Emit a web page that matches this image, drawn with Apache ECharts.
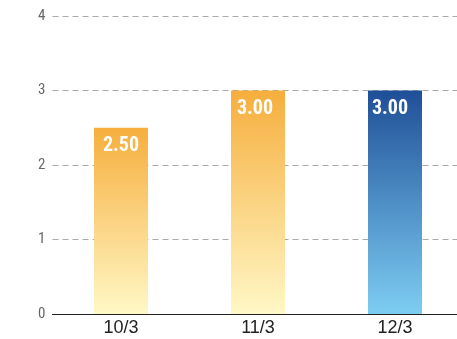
<!DOCTYPE html>
<html><head><meta charset="utf-8">
<script src="https://cdn.jsdelivr.net/npm/echarts@6/dist/echarts.min.js"></script>
<style>html,body{margin:0;padding:0;background:#fff}#c{width:457px;height:339px}</style>
</head><body><div id="c"></div>
<script>
const categories = ['10/3', '11/3', '12/3'];
const values = [2.5, 3.0, 3.0];
const yTicks = [0, 1, 2, 3, 4];

const orange = {type:'linear',x:0,y:0,x2:0,y2:1,colorStops:[{offset:0,color:'#F6AE3D'},{offset:1,color:'#FFF8C6'}]};
const blue = {type:'linear',x:0,y:0,x2:0,y2:1,colorStops:[{offset:0,color:'#1F4F97'},{offset:1,color:'#7DCDF3'}]};
const colors = [orange, orange, blue];
const labelShift = [[0,0],[-3,0],[-5,0]];

const chart = echarts.init(document.getElementById('c'));
chart.setOption({
  animation:false,
  grid:{left:52.5, right:-6.5, top:16, bottom:25, outerBoundsMode:'none', containLabel:false},
  xAxis:{type:'category', data:categories,
    axisLine:{lineStyle:{color:'#222', width:1.2}},
    axisTick:{show:false},
    axisLabel:{color:'#222', fontSize:18, fontFamily:'Arial, Liberation Sans', margin:5}},
  yAxis:{type:'value', min:yTicks[0], max:yTicks[yTicks.length-1], interval:1,
    axisLine:{show:false}, axisTick:{show:false},
    axisLabel:{color:'#666', fontSize:15, fontFamily:'Roboto Condensed', margin:7},
    splitLine:{lineStyle:{color:'#aaa', type:[6,4], width:1}}},
  series:[{type:'bar', barWidth:54,
    data: values.map((v,i)=>({value:v, itemStyle:{color:colors[i]}, label:{offset:labelShift[i]}})),
    label:{show:true, position:'insideTop', distance:8, color:'#fff', fontWeight:'bold', fontSize:20,
      fontFamily:'Roboto Condensed',
      formatter:p=>p.value.toFixed(2)}}]
});
</script></body></html>
